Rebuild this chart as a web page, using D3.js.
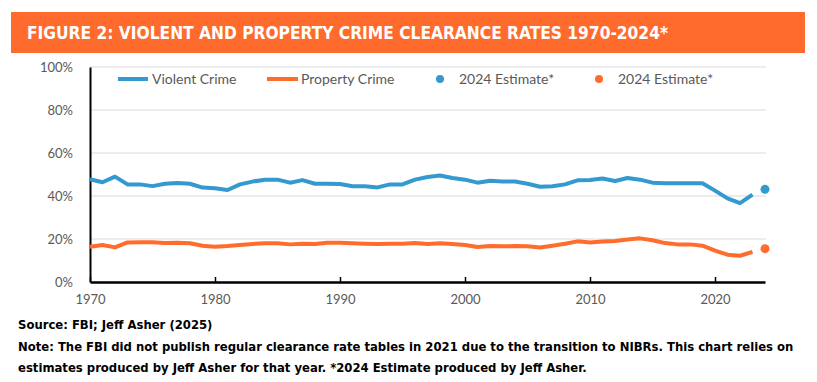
<!DOCTYPE html>
<html><head><meta charset="utf-8">
<script src="https://cdn.jsdelivr.net/npm/d3@7"></script>
<style>body{margin:0;background:#fff}svg{display:block}</style>
</head><body><svg id="c" width="817" height="382"></svg>
<script>
const years = [1970,1971,1972,1973,1974,1975,1976,1977,1978,1979,
  1980,1981,1982,1983,1984,1985,1986,1987,1988,1989,
  1990,1991,1992,1993,1994,1995,1996,1997,1998,1999,
  2000,2001,2002,2003,2004,2005,2006,2007,2008,2009,
  2010,2011,2012,2013,2014,2015,2016,2017,2018,2019,
  2020,2021,2022,2023];
const violent = [47.8,46.4,49.0,45.4,45.4,44.6,45.7,46.0,45.7,43.9,
  43.6,42.8,45.4,46.7,47.6,47.6,46.2,47.4,45.7,45.7,
  45.6,44.5,44.5,44.0,45.4,45.4,47.6,48.8,49.5,48.4,
  47.6,46.2,47.1,46.8,46.7,45.7,44.3,44.5,45.4,47.3,
  47.4,48.1,47.0,48.4,47.6,46.2,45.9,45.9,45.9,45.9,
  42.5,38.9,36.7,40.6];
const property = [16.4,17.2,16.1,18.4,18.5,18.5,18.1,18.3,18.0,16.9,
  16.4,16.7,17.2,17.7,18.0,18.0,17.5,17.8,17.7,18.3,
  18.3,18.0,17.8,17.7,17.8,17.8,18.1,17.7,18.0,17.7,
  17.2,16.3,16.7,16.6,16.7,16.6,16.0,16.9,17.8,18.9,
  18.4,18.8,19.1,19.8,20.3,19.4,18.1,17.5,17.5,16.9,
  14.6,12.7,12.2,14.0];
const estimateYear = 2024;
const violentEstimate = 43.1;
const propertyEstimate = 15.5;
const yTicks = [0,20,40,60,80,100];
const xTicks = [1970,1980,1990,2000,2010,2020];
const seriesNames = ["Violent  Crime","Property Crime","2024  Estimate*","2024  Estimate*"];
const titleText = "FIGURE 2: VIOLENT AND PROPERTY CRIME CLEARANCE RATES 1970-2024*";
const footerLines = [
  "Source: FBI; Jeff Asher (2025)",
  "Note: The FBI did not publish regular clearance rate tables in 2021 due to the transition to NIBRs. This chart relies on",
  "estimates produced by Jeff Asher for that year. *2024 Estimate produced by Jeff Asher."
];

const BLUE = "#3399CF", ORANGE = "#FF6C2C", GREY = "#595959";
const svg = d3.select("#c");

// Title bar
svg.append("rect").attr("x",11).attr("y",12).attr("width",794).attr("height",41).attr("fill","#FF6B2C");
svg.append("text").attr("x",27).attr("y",39).attr("fill","#fff")
  .attr("font-family","'Liberation Sans Narrow','DejaVu Sans Condensed',Lato,sans-serif")
  .attr("font-weight","bold").attr("font-size",18)
  .attr("textLength",641).attr("lengthAdjust","spacingAndGlyphs").text(titleText);

const x = d3.scaleLinear().domain([1970,2024]).range([90,765]);
const y = d3.scaleLinear().domain([0,100]).range([282,67]);

// gridlines
svg.append("g").selectAll("line").data(yTicks.filter(d=>d>0)).join("line")
  .attr("x1",90).attr("x2",766).attr("y1",d=>y(d)).attr("y2",d=>y(d))
  .attr("stroke","#d9d9d9").attr("stroke-width",1);

// y axis
const ya = svg.append("g").attr("transform","translate(90,0)")
  .call(d3.axisLeft(y).tickValues(yTicks).tickFormat(d=>d+"%").tickSize(0).tickSizeOuter(0).tickPadding(17));
ya.select(".domain").attr("stroke","#000").attr("stroke-width",2);
ya.selectAll("text").attr("font-family","Lato,sans-serif").attr("font-size",13).attr("fill",GREY);

// x axis
const xa = svg.append("g").attr("transform","translate(0,282)")
  .call(d3.axisBottom(x).tickValues(xTicks).tickFormat(d3.format("d")).tickSizeInner(-5).tickSizeOuter(0).tickPadding(13));
xa.select(".domain").attr("stroke","#000").attr("stroke-width",2.5);
xa.selectAll(".tick line").attr("stroke","#000").attr("stroke-width",1.5);
xa.selectAll("text").attr("font-family","Lato,sans-serif").attr("font-size",13).attr("fill",GREY);

// lines
const line = d3.line().x((d,i)=>x(years[i])).y(d=>y(d));
svg.append("path").datum(violent).attr("d",line).attr("fill","none")
  .attr("stroke",BLUE).attr("stroke-width",4).attr("stroke-linejoin","round");
svg.append("path").datum(property).attr("d",line).attr("fill","none")
  .attr("stroke",ORANGE).attr("stroke-width",4).attr("stroke-linejoin","round");
svg.append("circle").attr("cx",x(estimateYear)).attr("cy",y(violentEstimate)).attr("r",4.5).attr("fill",BLUE);
svg.append("circle").attr("cx",x(estimateYear)).attr("cy",y(propertyEstimate)).attr("r",4.5).attr("fill",ORANGE);

// legend
const lg = svg.append("g").attr("font-family","Lato,sans-serif").attr("font-size",14).attr("fill",GREY);
const ly = 79;
lg.append("line").attr("x1",118).attr("x2",148).attr("y1",ly).attr("y2",ly).attr("stroke",BLUE).attr("stroke-width",4);
lg.append("text").attr("x",152).attr("y",ly).attr("dy","0.35em").attr("fill",GREY).text(seriesNames[0]);
lg.append("line").attr("x1",267).attr("x2",298).attr("y1",ly).attr("y2",ly).attr("stroke",ORANGE).attr("stroke-width",4);
lg.append("text").attr("x",301).attr("y",ly).attr("dy","0.35em").attr("fill",GREY).text(seriesNames[1]);
lg.append("circle").attr("cx",440).attr("cy",ly).attr("r",4).attr("fill",BLUE);
lg.append("text").attr("x",459).attr("y",ly).attr("dy","0.35em").attr("fill",GREY).text(seriesNames[2]);
lg.append("circle").attr("cx",599).attr("cy",ly).attr("r",4).attr("fill",ORANGE);
lg.append("text").attr("x",618).attr("y",ly).attr("dy","0.35em").attr("fill",GREY).text(seriesNames[3]);

// footer: size the font so the longest line naturally spans the reference width
const fy = [329, 351, 372];
const footFont = "'Liberation Sans Narrow','DejaVu Sans Condensed',Lato,sans-serif";
const probe = svg.append("text").attr("font-family",footFont).attr("font-weight","bold")
  .attr("font-size",14).text(footerLines[1]);
const natural = probe.node().getComputedTextLength();
probe.remove();
const fs = Math.min(14, 14 * 776 / natural);
footerLines.forEach((t,i)=>{
  svg.append("text").attr("x",18).attr("y",fy[i]).attr("fill","#000")
    .attr("font-family",footFont).attr("font-weight","bold").attr("font-size",fs).text(t);
});
</script></body></html>
